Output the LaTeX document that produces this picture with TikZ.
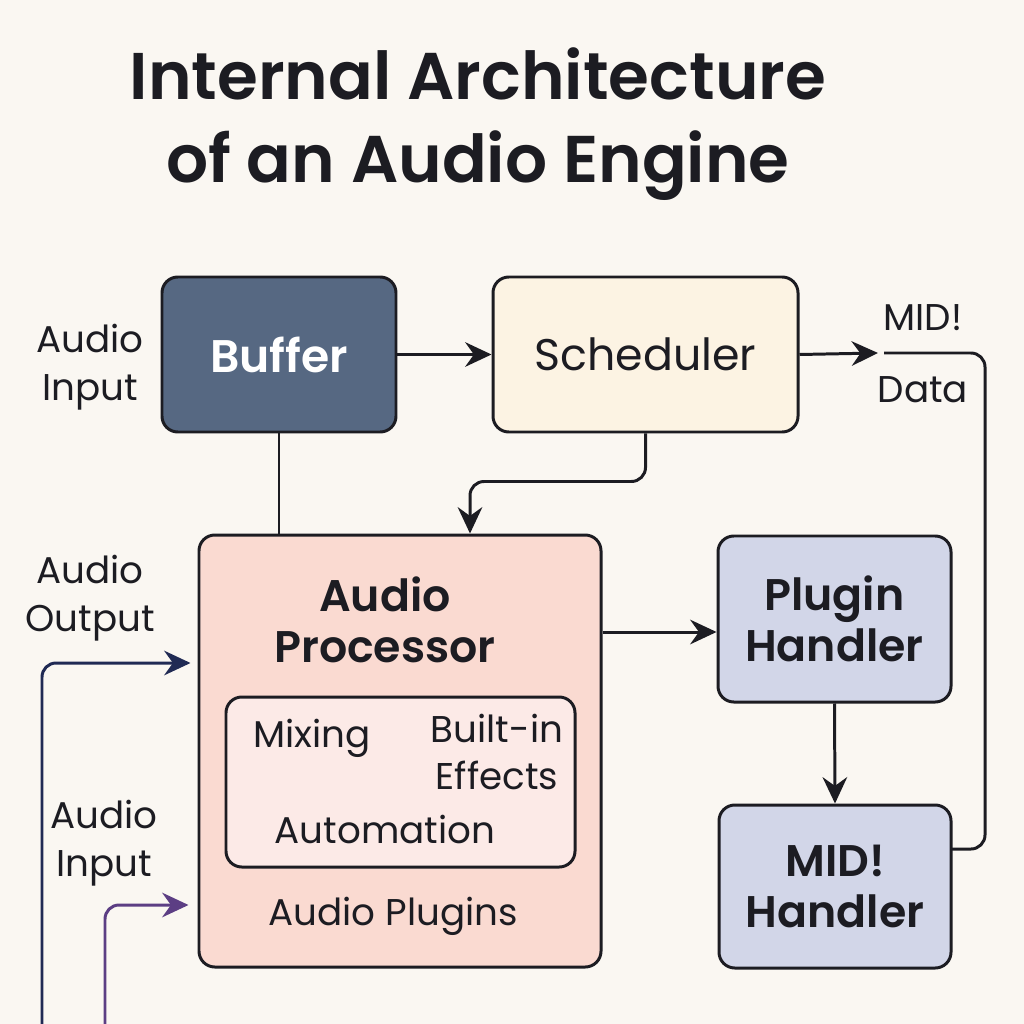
\documentclass[tikz,border=0pt]{standalone}
\usepackage{fontspec}
\setmainfont{Poppins}[BoldFont={Poppins SemiBold}]
\usetikzlibrary{arrows.meta}
\definecolor{pageCream}{RGB}{250, 247, 242}
\definecolor{lineDark}{RGB}{28, 28, 34}
\definecolor{boxSlate}{RGB}{86, 104, 130}
\definecolor{boxCream}{RGB}{252, 243, 227}
\definecolor{boxSalmon}{RGB}{250, 218, 209}
\definecolor{boxBlush}{RGB}{252, 234, 231}
\definecolor{boxLilac}{RGB}{210, 214, 232}
\definecolor{wireNavy}{RGB}{32, 42, 84}
\definecolor{wirePurple}{RGB}{92, 62, 132}

\begin{document}
\begin{tikzpicture}[x=0.1mm, y=-0.1mm,
    box/.style={draw=lineDark, line width=0.85pt, rounded corners=4.5pt},
    conn/.style={draw=lineDark, line width=0.85pt, -{Stealth[length=7.5pt, width=7pt, inset=2.5pt]}},
    wire/.style={draw=lineDark, line width=0.85pt},
    lbl/.style={align=center, text=lineDark, font=\fontsize{10.6}{13.6}\selectfont},
    head/.style={align=center, text=lineDark, font=\bfseries\fontsize{12.6}{14.4}\selectfont}]
    \fill[pageCream] (0,0) rectangle (1024,1024);
    \useasboundingbox (0,0) rectangle (1024,1024);
    \node[align=center, text=lineDark, font=\bfseries\fontsize{18.8}{23.5}\selectfont] (title) at (478,124) {Internal Architecture\\of an Audio Engine};
    \node[box, fill=boxSlate, minimum width=23.4mm, minimum height=15.5mm, text=white, font=\bfseries\fontsize{13}{15}\selectfont] (buffer) at (279,354.5) {Buffer};
    \node[box, fill=boxCream, minimum width=30.5mm, minimum height=15.5mm, text=lineDark, font=\fontsize{12.6}{15}\selectfont] (scheduler) at (645.5,354.5) {Scheduler};
    \node[box, fill=boxSalmon, minimum width=40.2mm, minimum height=43.2mm] (processor) at (400,751) {};
    \node[box, fill=boxBlush, minimum width=34.9mm, minimum height=17mm] (inner) at (400.5,782) {};
    \node[box, fill=boxLilac, minimum width=23.3mm, minimum height=16.6mm, head] (plugin) at (834.5,619) {Plugin\\Handler};
    \node[box, fill=boxLilac, minimum width=23.2mm, minimum height=16.3mm, head] (midi) at (835,886.5) {MID!\\Handler};
    \node[head] (proctitle) at (385,620) {Audio\\Processor};
    \node[lbl] (mixing) at (312,738) {Mixing};
    \node[lbl] (effects) at (497,752) {Built-in\\Effects};
    \node[lbl] (automation) at (385,829) {Automation};
    \node[lbl] (plugins) at (393,916) {Audio Plugins};
    \node[lbl] (inlabel) at (90,367) {Audio\\Input};
    \node[lbl] (outlabel) at (90,598) {Audio\\Output};
    \node[lbl] (inlabeltwo) at (104,843) {Audio\\Input};
    \node[lbl] (midilabel) at (923,318) {MID!};
    \node[lbl] (datalabel) at (923,390) {Data};
    \coordinate (midiin) at (878,353);
    \coordinate (midiloop) at (884,353);
    \coordinate (midiout) at (951,849);
    \coordinate (outfoot) at (42,1030);
    \coordinate (infoot) at (105,1030);
    \coordinate (pluginin) at ([yshift=-1.3mm]plugin.west);
    \draw[conn] (buffer.east) -- (scheduler.west);
    \draw[conn] (scheduler.east) -- (midiin);
    \draw[wire, rounded corners=4pt] (midiout) -| (985,353) -- (midiloop);
    \draw[conn, rounded corners=4pt] (scheduler.south) -- ++(0,48) -| ([xshift=7mm]processor.north);
    \draw[wire] (buffer.south) -- (buffer.south |- processor.north);
    \draw[conn] (pluginin -| processor.east) -- (pluginin);
    \draw[conn] (plugin.south) -- (midi.north);
    \draw[conn, draw=wireNavy, rounded corners=4pt] (outfoot) |- ([shift={(-0.7mm,8.8mm)}]processor.west);
    \draw[conn, draw=wirePurple, rounded corners=4pt] (infoot) |- ([shift={(-0.9mm,-15.4mm)}]processor.west);
\end{tikzpicture}
\end{document}
